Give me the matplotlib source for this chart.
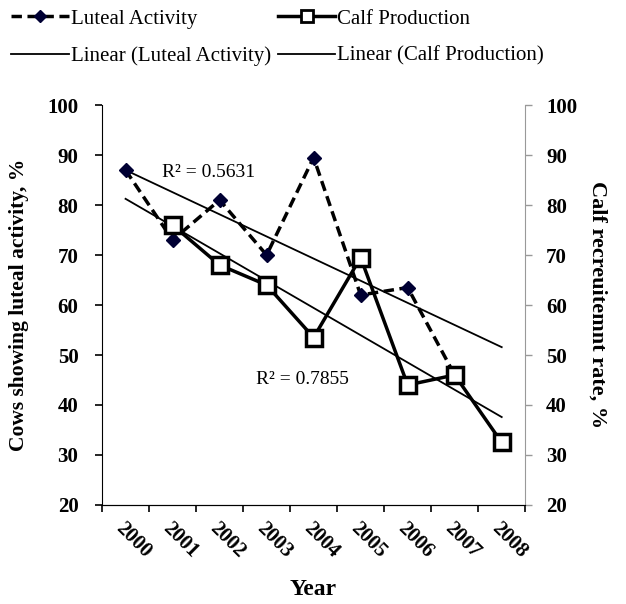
import matplotlib
matplotlib.use('agg')
import numpy as np
import matplotlib.pyplot as plt
from matplotlib.lines import Line2D

plt.rcParams['font.family'] = 'Liberation Serif'

years = ['2000', '2001', '2002', '2003', '2004', '2005', '2006', '2007', '2008']
luteal_years = ['2000', '2001', '2002', '2003', '2004', '2005', '2006', '2007']
luteal = [87, 73, 81, 70, 89.5, 62, 63.5, 46]
calf_years = ['2001', '2002', '2003', '2004', '2005', '2006', '2007', '2008']
calf = [76, 68, 64, 53.5, 69.5, 44, 46, 32.5]
r2_luteal = 'R² = 0.5631'
r2_calf = 'R² = 0.7855'

xpos = {y: i for i, y in enumerate(years)}
lx = np.array([xpos[y] for y in luteal_years])
cx = np.array([xpos[y] for y in calf_years])
allx = np.arange(len(years))

fig = plt.figure(figsize=(6.26, 6.04), dpi=100)
ax = fig.add_axes([0.163, 0.164, 0.676, 0.662])
ax2 = ax.twinx()

# trend lines
pl = np.polyfit(lx, luteal, 1)
pc = np.polyfit(cx, calf, 1)
ax.plot(allx, np.polyval(pl, allx), color='black', lw=1.3, zorder=2)
ax.plot(allx, np.polyval(pc, allx), color='black', lw=1.3, zorder=2)

ax.plot(lx, luteal, color='black', ls=(0, (3, 1.6)), lw=2.5, marker='D', markersize=7,
        markerfacecolor='#000033', markeredgecolor='#000033', zorder=3)
ax2.plot(cx, calf, color='black', lw=2.5, marker='s', markersize=12,
         markerfacecolor='white', markeredgecolor='black', markeredgewidth=2.5, zorder=4)

for a in (ax, ax2):
    a.set_ylim(20, 100)
    a.set_yticks(range(20, 101, 10))
    a.set_xlim(-0.5, 8.5)
    a.spines['top'].set_visible(False)

ax.spines['right'].set_visible(False)
ax2.spines['left'].set_visible(False)
ax2.spines['right'].set_color('#999999')
ax2.tick_params(axis='y', colors='#999999', labelcolor='black', length=5, width=1, pad=10)
ax.tick_params(axis='y', length=5, width=1.2, pad=12)
for lab in ax.get_yticklabels() + ax2.get_yticklabels():
    lab.set_fontweight('bold')
    lab.set_fontsize(15)

ax.set_xticks(np.arange(-0.5, 9, 1))
ax.set_xticklabels([])
ax.tick_params(axis='x', length=5, width=1.2)
ax.set_xticks(allx, minor=True)
ax.set_xticklabels(years, minor=True, rotation=-45, ha='left', va='top',
                   rotation_mode='anchor', fontweight='bold', fontsize=15)
ax.tick_params(axis='x', which='minor', length=0, pad=10)

ax.set_ylabel('Cows showing luteal activity, %', fontsize=15.5, fontweight='bold', labelpad=13)
ax2.set_ylabel('Calf recreuitemnt rate, %', fontsize=16, fontweight='bold',
               rotation=270, labelpad=22)
ax.set_xlabel('Year', fontsize=17, fontweight='bold', labelpad=12)

ax.text(0.78, 86.5, r2_luteal, fontsize=14, va='center')
ax.text(2.78, 45, r2_calf, fontsize=14, va='center')

handles = [
    Line2D([], [], color='black', ls=(0, (3, 1.6)), lw=2.5, marker='D', markersize=6,
           markerfacecolor='#000033', markeredgecolor='#000033'),
    Line2D([], [], color='black', lw=1.3),
    Line2D([], [], color='black', lw=2.5, marker='s', markersize=8,
           markerfacecolor='white', markeredgecolor='black', markeredgewidth=2),
    Line2D([], [], color='black', lw=1.3),
]
labels = ['Luteal Activity', 'Linear (Luteal Activity)', 'Calf Production',
          'Linear (Calf Production)']
fig.legend(handles, labels, ncol=2, loc='upper left', bbox_to_anchor=(-0.012, 1.016),
           frameon=False, fontsize=15, handlelength=2.75, handletextpad=0.1,
           labelspacing=0.85, columnspacing=0.35)

fig.savefig('out.png', dpi=100)
